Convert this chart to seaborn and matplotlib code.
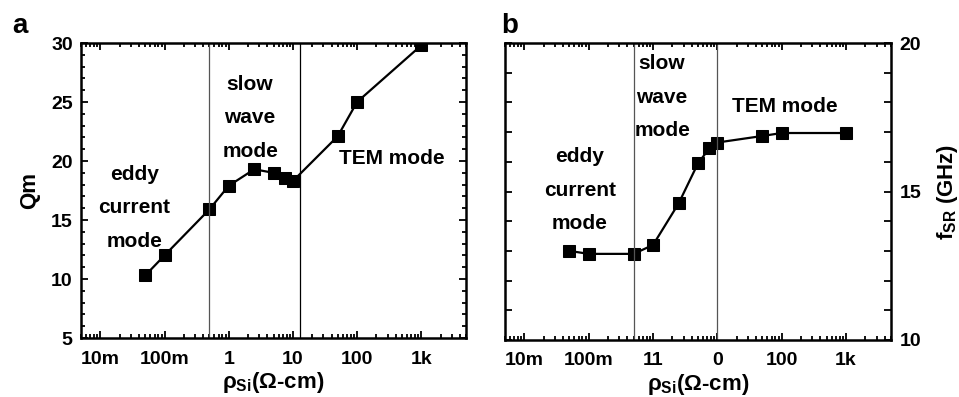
import numpy as np
import pandas as pd
import matplotlib
matplotlib.use("Agg")
import matplotlib.pyplot as plt
import matplotlib.ticker as mticker
import seaborn as sns

# data
rho_si = [0.05, 0.1, 0.5, 1, 2.5, 5, 7.5, 10, 50, 100, 1000]
qm = [10.3, 12.0, 15.9, 17.9, 19.3, 19.0, 18.6, 18.3, 22.1, 25.0, 29.8]
f_sr = [13.0, 12.9, 12.9, 13.2, 14.6, 15.95, 16.45, 16.65, 16.87, 16.97, 16.97]

x_ticks = [0.01, 0.1, 1, 10, 100, 1000]
x_labels_a = ["10m", "100m", "1", "10", "100", "1k"]
x_labels_b = ["10m", "100m", "11", "0", "100", "1k"]
region_lines_a = [0.5, 13]
region_lines_b = [0.5, 10]

sns.set_theme(style="ticks")
plt.rcParams["font.family"] = ["Liberation Sans", "DejaVu Sans"]
plt.rcParams["font.weight"] = "bold"
plt.rcParams["axes.labelweight"] = "bold"
plt.rcParams["text.color"] = "black"
plt.rcParams["axes.labelcolor"] = "black"
plt.rcParams["mathtext.fontset"] = "custom"
plt.rcParams["mathtext.rm"] = "Liberation Sans:bold"
plt.rcParams["mathtext.it"] = "Liberation Sans:bold"
plt.rcParams["mathtext.bf"] = "Liberation Sans:bold"

FS_TICK = 14
FS_TEXT = 15
FS_LABEL = 16
df = pd.DataFrame({"rho": rho_si, "qm": qm, "fsr": f_sr})

fig = plt.figure(figsize=(9.59, 3.97), dpi=100)
ax_a = fig.add_axes([0.0845, 0.1486, 0.4015, 0.743])
ax_b = fig.add_axes([0.5266, 0.1436, 0.4025, 0.748])


def style_axis(ax, labels):
    ax.set_xscale("log")
    ax.set_xlim(5e-3, 5e3)
    ax.xaxis.set_major_locator(mticker.FixedLocator(x_ticks))
    ax.xaxis.set_major_formatter(mticker.FixedFormatter(labels))
    ax.xaxis.set_minor_locator(mticker.LogLocator(base=10, subs=np.arange(2, 10), numticks=20))
    ax.xaxis.set_minor_formatter(mticker.NullFormatter())
    for s in ax.spines.values():
        s.set_linewidth(1.8)
        s.set_color("black")
    ax.tick_params(which="both", direction="in", top=True, right=True,
                   colors="black", labelsize=FS_TICK, width=1.3)
    ax.tick_params(which="major", length=5, pad=6)
    ax.tick_params(axis="x", which="major", pad=9)
    ax.tick_params(which="minor", length=3)
    ax.set_xlabel(r"ρ$_{\mathrm{Si}}$(Ω-cm)", fontsize=FS_LABEL, labelpad=2)
    for lab in ax.get_xticklabels() + ax.get_yticklabels():
        lab.set_fontweight("bold")


def mode_text(ax, x, y, s):
    ax.text(x, y, s, transform=ax.transAxes, ha="center", va="center",
            fontsize=FS_TEXT, fontweight="bold", linespacing=1.95)


# panel a
sns.lineplot(data=df, x="rho", y="qm", ax=ax_a, color="black", marker="s",
             markersize=8, markeredgecolor="black", linewidth=1.6, sort=False)
for xv, c in zip(region_lines_a, ["#555555", "black"]):
    ax_a.axvline(xv, color=c, linewidth=0.9)
style_axis(ax_a, x_labels_a)
ax_a.set_ylim(5, 30)
ax_a.yaxis.set_major_locator(mticker.MultipleLocator(5))
ax_a.yaxis.set_minor_locator(mticker.MultipleLocator(1))
ax_a.set_ylabel("Qm", fontsize=FS_LABEL, labelpad=8)
mode_text(ax_a, 0.439, 0.746, "slow\nwave\nmode")
mode_text(ax_a, 0.808, 0.610, "TEM mode")
mode_text(ax_a, 0.138, 0.441, "eddy\ncurrent\nmode")

# panel b
sns.lineplot(data=df, x="rho", y="fsr", ax=ax_b, color="black", marker="s",
             markersize=8, markeredgecolor="black", linewidth=1.6, sort=False)
for xv in region_lines_b:
    ax_b.axvline(xv, color="#555555", linewidth=0.9)
style_axis(ax_b, x_labels_b)
ax_b.set_ylim(10, 20)
ax_b.yaxis.set_major_locator(mticker.MultipleLocator(5))
ax_b.yaxis.set_minor_locator(mticker.MultipleLocator(1))
ax_b.tick_params(axis="y", which="minor", length=5)
ax_b.tick_params(axis="y", labelleft=False, labelright=True)
ax_b.yaxis.set_label_position("right")
ax_b.set_ylabel(r"f$_{\mathrm{SR}}$ (GHz)", fontsize=FS_LABEL, labelpad=10)
for lab in ax_b.get_yticklabels():
    lab.set_fontweight("bold")
mode_text(ax_b, 0.407, 0.818, "slow\nwave\nmode")
mode_text(ax_b, 0.725, 0.785, "TEM mode")
mode_text(ax_b, 0.194, 0.505, "eddy\ncurrent\nmode")

fig.text(0.0125, 0.917, "a", fontsize=20, fontweight="bold", va="baseline")
fig.text(0.523, 0.917, "b", fontsize=20, fontweight="bold", va="baseline")

fig.savefig("out.png", dpi=100)
